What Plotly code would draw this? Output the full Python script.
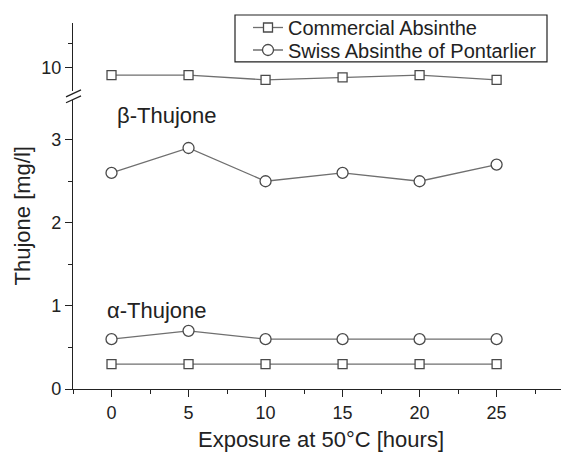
import plotly.graph_objects as go

hours = [0, 5, 10, 15, 20, 25]
commercial_alpha = [0.3, 0.3, 0.3, 0.3, 0.3, 0.3]
commercial_beta = [9.7, 9.7, 9.5, 9.6, 9.7, 9.5]
swiss_alpha = [0.6, 0.7, 0.6, 0.6, 0.6, 0.6]
swiss_beta = [2.6, 2.9, 2.5, 2.6, 2.5, 2.7]

series_names = ["Commercial Absinthe", "Swiss Absinthe of Pontarlier"]
x_ticks = [0, 5, 10, 15, 20, 25]

FONT = "Liberation Sans, Arial, Helvetica, sans-serif"
LINE_C = "#6f6f6f"
EDGE_C = "#4a4a4a"
AX_C = "#222222"

fig = go.Figure()

def add(yvals, yaxis, symbol, size, name, show, group, legend):
    fig.add_trace(go.Scatter(
        x=hours, y=yvals, yaxis=yaxis, mode="lines+markers", name=name,
        legendgroup=group, showlegend=show, legend=legend,
        line=dict(color=LINE_C, width=1.3),
        marker=dict(symbol=symbol, size=size, color="white",
                    line=dict(color=EDGE_C, width=1.3)),
    ))

add(commercial_beta, "y2", "square", 9, series_names[0], True, "c", "legend")
add(commercial_alpha, "y", "square", 9, series_names[0], False, "c", "legend")
add(swiss_beta, "y", "circle", 11, series_names[1], True, "s", "legend2")
add(swiss_alpha, "y", "circle", 11, series_names[1], False, "s", "legend2")

# page body has an 8px margin: the figure is drawn from (8, 8)
OFF = 8
W, H = 569 - OFF, 452 - OFF
ML, MR, MT, MB = 73 - OFF, 0, 22 - OFF, 63
plot_h = H - MT - MB
plot_w = W - ML - MR

def py2paper(py):  # py in window pixels
    return (H + OFF - MB - py) / plot_h

def px2paper(px):  # px in window pixels
    return (px - OFF - ML) / plot_w

lower_top = py2paper(99)
upper_bot = py2paper(90.5)

axis_common = dict(
    showline=True, linecolor=AX_C, linewidth=1.3, showgrid=False, zeroline=False,
    ticks="outside", tickcolor=AX_C, tickwidth=1.3, ticklen=7,
    tickfont=dict(family=FONT, size=18, color=AX_C),
)

leg_common = dict(xanchor="left", yanchor="middle", bgcolor="rgba(0,0,0,0)",
                  borderwidth=0, font=dict(family=FONT, size=20, color=AX_C),
                  itemwidth=30)

fig.update_layout(
    width=W, height=H,
    margin=dict(l=ML, r=MR, t=MT, b=MB),
    paper_bgcolor="white", plot_bgcolor="white",
    font=dict(family=FONT, color=AX_C),
    xaxis=dict(range=[-2.5, 29.7], tickvals=x_ticks,
               minor=dict(dtick=2.5, tick0=0, ticks="outside", ticklen=4, tickcolor=AX_C, tickwidth=1.3),
               title=dict(text="Exposure at 50°C [hours]", font=dict(family=FONT, size=22, color=AX_C), standoff=11),
               **axis_common),
    yaxis=dict(domain=[0, lower_top], range=[0, 3.48], tickvals=[0, 1, 2, 3],
               minor=dict(dtick=0.5, tick0=0, ticks="outside", ticklen=4, tickcolor=AX_C, tickwidth=1.3),
               **axis_common),
    yaxis2=dict(domain=[upper_bot, 1], range=[9.02, 11.875], tickvals=[10],
                minor=dict(dtick=1, tick0=10, ticks="outside", ticklen=4, tickcolor=AX_C, tickwidth=1.3),
                anchor="x", **axis_common),
    legend=dict(x=px2paper(248), y=py2paper(27), **leg_common),
    legend2=dict(x=px2paper(248), y=py2paper(50), **leg_common),
    showlegend=True,
)

# legend frame
fig.add_shape(type="rect", xref="paper", yref="paper",
              x0=px2paper(235), y0=py2paper(61), x1=px2paper(547), y1=py2paper(14),
              line=dict(color=AX_C, width=1.2), fillcolor="rgba(0,0,0,0)")

fig.add_annotation(text="Thujone [mg/l]", xref="paper", yref="paper",
                   x=px2paper(22), y=py2paper(216), textangle=-90,
                   showarrow=False, xanchor="center", yanchor="middle",
                   font=dict(family=FONT, size=22, color=AX_C))
fig.add_annotation(text="β-Thujone", xref="paper", yref="y",
                   x=px2paper(115), y=3.29, showarrow=False, xanchor="left", yanchor="middle",
                   font=dict(family=FONT, size=22, color=AX_C))
fig.add_annotation(text="α-Thujone", xref="paper", yref="y",
                   x=px2paper(105), y=0.95, showarrow=False, xanchor="left", yanchor="middle",
                   font=dict(family=FONT, size=22, color=AX_C))

# axis break marks
for off in (0, 6):
    fig.add_shape(type="line", xref="paper", yref="paper",
                  x0=px2paper(66), y0=py2paper(96 + off), x1=px2paper(81), y1=py2paper(89 + off),
                  line=dict(color=AX_C, width=1.3))

fig.write_html("out.html")
